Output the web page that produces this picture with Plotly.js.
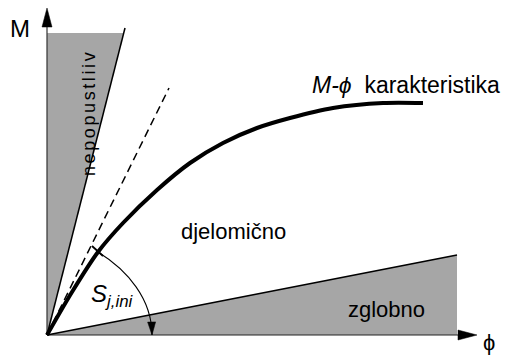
<!DOCTYPE html>
<html><head><meta charset="utf-8">
<script src="https://cdn.plot.ly/plotly-3.0.1.min.js"></script>
<style>
html,body{margin:0;padding:0;background:#fff;}
#chart{width:507px;height:356px;}
text[data-unformatted="nepopustliiv"]{letter-spacing:2.6px;}
</style>
</head><body><div id="chart"></div>
<script>
// schematic axis extents (rotation phi, moment M)
const axisPhiMax = 43;
const axisMMax = 32.7;
// M-phi characteristic
const curvePhi = [0, 2.5, 5.1, 7.6, 11.0, 14.3, 17.6, 21.0, 24.3, 28.6, 33.6, 37.6];
const curveM   = [0, 4.3, 8.3, 11.2, 14.5, 17.2, 19.2, 20.7, 21.7, 22.7, 23.2, 23.2];
// rigid (nepopustljiv) boundary
const rigidPhi = [0, 7.8];
const rigidM   = [0, 30.7];
const rigidZoneTop = 30.2;
// initial stiffness tangent S_j,ini
const tangentPhi = [0, 12.2];
const tangentM   = [0, 24.7];
// pinned (zglobno) boundary
const pinnedPhi = [0, 41.0];
const pinnedM   = [0, 8.0];
// S_j,ini marker on curve and angle arc
const tickPhi = [4.5, 5.6];
const tickM   = [8.9, 7.9];
const arcFrom = [5.1, 8.3];
const arcCtrl1 = [8.05, 6.48];
const arcCtrl2 = [10.5, 3.6];
const arcTo   = [10.5, 0];
// texts
const zoneLabels = ['nepopustliiv', 'djelomično', 'zglobno'];
const curveLabel = '<i>M-\u03D5</i>\u00a0 karakteristika';
const stiffLabel = '<i>S<sub>j,ini</sub></i>';
const axisLabels = ['M', '\u03D5'];

const black = '#000', grey = '#a6a6a6';
const rigidSlope = rigidPhi[1] / rigidM[1];

function tri(tip, dir, len, half) {
  const bx = tip[0] - dir[0]*len, by = tip[1] - dir[1]*len;
  const px = -dir[1]*half, py = dir[0]*half;
  return {x:[tip[0], bx+px, bx-px, tip[0]], y:[tip[1], by+py, by-py, tip[1]]};
}
const headY = tri([0, axisMMax], [0,1], 1.9, 0.5);
const headX = tri([axisPhiMax, 0], [1,0], 1.9, 0.5);
const headArc = tri(arcTo, [0.03,-1], 1.3, 0.4);

const traces = [
  {x:[0, 0, rigidZoneTop*rigidSlope, 0], y:[0, rigidZoneTop, rigidZoneTop, 0], fill:'toself', fillcolor:grey, mode:'none'},
  {x:[pinnedPhi[0], pinnedPhi[1], pinnedPhi[1], pinnedPhi[0]], y:[pinnedM[0], pinnedM[1], 0, pinnedM[0]], fill:'toself', fillcolor:grey, mode:'none'},
  {x:[0, 0], y:[0, axisMMax-1.9], mode:'lines', line:{color:'#333', width:1.2}},
  {x:[0, axisPhiMax-1.9], y:[0, 0], mode:'lines', line:{color:'#222', width:1.2}},
  {x:rigidPhi, y:rigidM, mode:'lines', line:{color:black, width:1.5}},
  {x:pinnedPhi, y:pinnedM, mode:'lines', line:{color:black, width:1.5}},
  {x:tangentPhi, y:tangentM, mode:'lines', line:{color:black, width:1.5, dash:'8px,5px'}},
  {x:curvePhi, y:curveM, mode:'lines', line:{color:black, width:4, shape:'spline', smoothing:0.8}},
  {x:tickPhi, y:tickM, mode:'lines', line:{color:black, width:1.8}},
  Object.assign(headY, {fill:'toself', fillcolor:black, mode:'lines', line:{color:black, width:0.5}}),
  Object.assign(headX, {fill:'toself', fillcolor:black, mode:'lines', line:{color:black, width:0.5}}),
  Object.assign(headArc, {fill:'toself', fillcolor:black, mode:'lines', line:{color:black, width:0.5}})
];

const F = 'Liberation Sans, Arial, Helvetica, sans-serif';
const ann = (text, x, y, size, extra) => Object.assign({text, x, y, xref:'x', yref:'y', showarrow:false,
  font:{family:F, size, color:black}, xanchor:'center', yanchor:'middle'}, extra || {});

const layout = {
  width:507, height:356,
  margin:{l:0, r:0, t:2, b:11, pad:0},
  xaxis:{range:[-4.7, 46.0], visible:false, fixedrange:true},
  yaxis:{range:[-1.0, 33.3], visible:false, fixedrange:true},
  showlegend:false, paper_bgcolor:'#fff', plot_bgcolor:'#fff',
  hovermode:false,
  shapes:[{type:'path', xref:'x', yref:'y',
    path:'M' + arcFrom.join(',') + ' C' + arcCtrl1.join(',') + ' ' + arcCtrl2.join(',') + ' ' + arcTo.join(','),
    line:{color:black, width:1.1}}],
  annotations:[
    ann(zoneLabels[0], 4.2, 22.2, 18, {textangle:-90}),
    ann(zoneLabels[1], 18.6, 10.4, 22),
    ann(zoneLabels[2], 33.9, 2.6, 22),
    ann(curveLabel, 35.9, 25.0, 23),
    ann(stiffLabel, 4.2, 4.0, 24, {xanchor:'left'}),
    ann(axisLabels[0], -2.7, 30.7, 24),
    ann(axisLabels[1], 44.15, -0.7, 22, {borderpad:0})
  ]
};
Plotly.newPlot('chart', traces, layout, {staticPlot:true, displayModeBar:false});
</script></body></html>
